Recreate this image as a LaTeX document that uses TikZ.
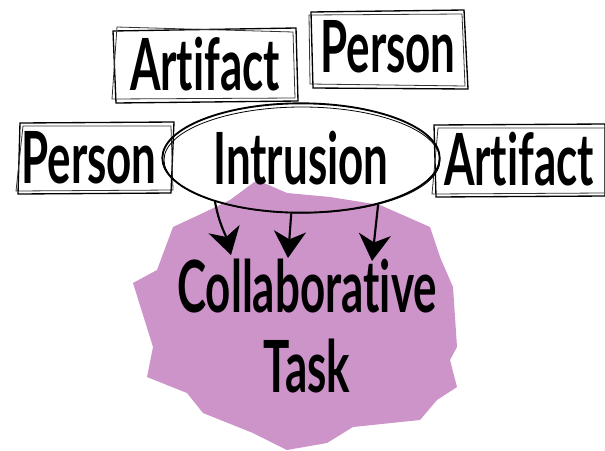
\documentclass[tikz,border=0pt]{standalone}
\usepackage{fontspec}
\setmainfont{Lato}[FakeStretch=0.61, Ligatures={NoCommon,NoRare}, UprightFont=* Bold]
\usetikzlibrary{shapes.geometric,arrows.meta}
\definecolor{blobc}{RGB}{205,148,201}
\tikzset{
  lbl/.style={font=\fontsize{54}{56}\selectfont, inner sep=0pt},
  sk/.style={draw=black, line width=1pt},
  sk2/.style={draw=black!80, line width=0.6pt},
  arr/.style={line width=1.6pt, -{Stealth[length=20pt,width=24pt,inset=6pt]}}
}
\begin{document}
\begin{tikzpicture}[x=0.75pt,y=-0.75pt]
\useasboundingbox (0,0) rectangle (605,450);
% blob
\fill[blobc] (257,180) -- (287,193) -- (330,197) -- (380,205) -- (430,227) -- (440,257) -- (453,287)
  -- (457,347) -- (450,360) -- (457,387) -- (437,400) -- (420,420) -- (353,427) -- (327,443)
  -- (287,450) -- (253,433) -- (203,413) -- (187,393) -- (147,377) -- (153,347) -- (133,283)
  -- (157,270) -- (173,227) -- (203,213) -- (230,200) -- cycle;
% boxes
\node[lbl] (art1) at (205,64) {Artifact};
\draw[sk] (113,31) -- (296,28) -- (298,101) -- (116,103) -- cycle;
\draw[sk2] (117,27) -- (293,32) -- (295,98) -- (112,99) -- cycle;
\node[lbl] (per1) at (388,47) {Person};
\draw[sk] (311,12) -- (464,10) -- (468,89) -- (313,88) -- cycle;
\draw[sk2] (309,15) -- (462,14) -- (465,86) -- (310,84) -- cycle;
\node[lbl] (per2) at (89,158) {Person};
\draw[sk] (20,123) -- (174,122) -- (171,193) -- (18,194) -- cycle;
\draw[sk2] (23,126) -- (171,126) -- (173,190) -- (16,191) -- cycle;
\node[lbl] (art2) at (519,159) {Artifact};
\draw[sk] (434,125) -- (605,124) -- (605,196) -- (436,197) -- cycle;
\draw[sk2] (438,128) -- (605,128) -- (605,193) -- (432,194) -- cycle;
% ellipse
\node[lbl, ellipse, draw, line width=1.4pt, minimum width=208pt, minimum height=82pt] (intr) at (301,158) {Intrusion};
\draw[line width=0.6pt] (302,160) ellipse [x radius=138, y radius=53];
% task
\node[lbl, align=center] (task) at (307,326) {Collaborative\\[4pt]Task};
% arrows
\coordinate (t1) at (231,255);
\coordinate (t2) at (288,258);
\coordinate (t3) at (372,261);
\draw[arr] (intr.-153) to[out=-80,in=105] (t1);
\draw[arr] (intr.-100) -- (t2);
\draw[arr] (intr.-31) -- (t3);
\end{tikzpicture}
\end{document}
